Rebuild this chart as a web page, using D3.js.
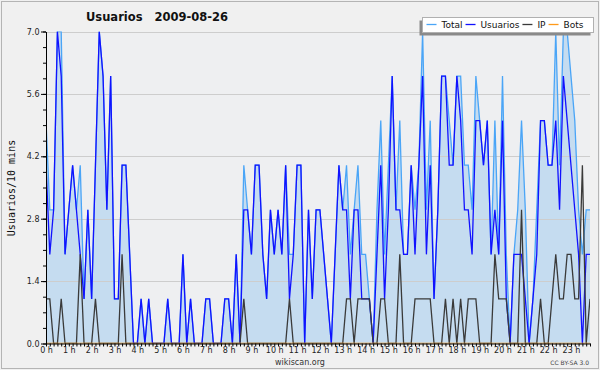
<!DOCTYPE html>
<html>

<head>
    <meta charset="UTF-8">
    <style>
        body { margin: 0; background: #f0f0f0; }
        svg text { font-family: "DejaVu Sans", sans-serif; }
    </style>
</head>

<body>
    <div id="my_dataviz"></div>

    <script src="https://d3js.org/d3.v7.min.js"></script>
    <script>
        // one value every 10 minutes (144 slots), 2 hours per row
        const total = [
            5, 3, 3, 7, 7, 2, 3, 4, 3, 4, 1, 3,
            1, 4, 7, 6, 3, 6, 1, 1, 4, 4, 2, 0,
            0, 1, 0, 1, 0, 0, 0, 0, 1, 0, 0, 0,
            2, 0, 1, 0, 0, 0, 1, 1, 0, 0, 0, 1,
            1, 0, 2, 0, 4, 3, 2, 4, 4, 2, 1, 3,
            2, 3, 2, 4, 2, 2, 4, 4, 0, 3, 1, 3,
            3, 2, 1, 0, 2, 4, 3, 4, 2, 3, 4, 2,
            2, 1, 0, 3, 5, 2, 4, 6, 3, 5, 2, 2,
            4, 3, 4, 7, 3, 5, 1, 3, 6, 6, 5, 4,
            6, 6, 4, 4, 3, 6, 5, 4, 5, 2, 5, 2,
            6, 2, 0, 2, 3, 5, 3, 0, 1, 3, 5, 5,
            4, 4, 7, 4, 7, 7, 6, 5, 3, 2, 3, 3
        ];
        const usuarios = [
            4, 2, 3, 7, 6, 2, 3, 4, 3, 2, 1, 3,
            1, 4, 7, 6, 3, 6, 1, 1, 4, 4, 2, 0,
            0, 1, 0, 1, 0, 0, 0, 0, 1, 0, 0, 0,
            2, 0, 1, 0, 0, 0, 1, 1, 0, 0, 0, 1,
            1, 0, 2, 0, 3, 3, 2, 4, 4, 2, 1, 3,
            2, 3, 2, 4, 1, 2, 4, 4, 0, 3, 1, 3,
            3, 2, 1, 0, 2, 4, 3, 3, 1, 3, 3, 1,
            1, 1, 0, 2, 4, 1, 3, 6, 3, 3, 2, 2,
            4, 2, 4, 6, 2, 4, 1, 3, 6, 6, 4, 4,
            6, 5, 3, 3, 2, 5, 5, 4, 5, 2, 3, 2,
            5, 1, 0, 2, 2, 2, 1, 0, 1, 2, 5, 5,
            4, 4, 5, 3, 6, 5, 4, 3, 2, 0, 2, 2
        ];
        const ip = [
            1, 1, 0, 0, 1, 0, 0, 0, 0, 2, 0, 0,
            0, 1, 0, 0, 0, 0, 0, 0, 2, 0, 0, 0,
            0, 0, 0, 0, 0, 0, 0, 0, 0, 0, 0, 0,
            0, 0, 0, 0, 0, 0, 0, 0, 0, 0, 0, 0,
            0, 0, 0, 0, 1, 0, 0, 0, 0, 0, 0, 0,
            0, 0, 0, 0, 1, 0, 0, 0, 0, 0, 0, 0,
            0, 0, 0, 0, 0, 0, 0, 1, 1, 0, 1, 1,
            1, 1, 0, 0, 1, 1, 0, 0, 0, 2, 0, 0,
            0, 1, 1, 1, 1, 1, 0, 0, 0, 1, 0, 1,
            0, 1, 0, 1, 1, 1, 0, 0, 0, 0, 2, 1,
            1, 1, 0, 0, 0, 3, 0, 0, 0, 0, 1, 0,
            0, 1, 2, 1, 1, 2, 2, 1, 1, 4, 0, 1
        ];
        const bots = [
            0, 0, 0, 0, 0, 0, 0, 0, 0, 0, 0, 0,
            0, 0, 0, 0, 0, 0, 0, 0, 0, 0, 0, 0,
            0, 0, 0, 0, 0, 0, 0, 0, 0, 0, 0, 0,
            0, 0, 0, 0, 0, 0, 0, 0, 0, 0, 0, 0,
            0, 0, 0, 0, 0, 0, 0, 0, 0, 0, 0, 0,
            0, 0, 0, 0, 0, 0, 0, 0, 0, 0, 0, 0,
            0, 0, 0, 0, 0, 0, 0, 0, 0, 0, 0, 0,
            0, 0, 0, 0, 0, 0, 0, 0, 0, 0, 0, 0,
            0, 0, 0, 0, 0, 0, 0, 0, 0, 0, 0, 0,
            0, 0, 0, 0, 0, 0, 0, 0, 0, 0, 0, 0,
            0, 0, 0, 0, 0, 0, 0, 0, 0, 0, 0, 0,
            0, 0, 0, 0, 0, 0, 0, 0, 0, 0, 0, 0
        ];
        const hourLabels = ["0 h", "1 h", "2 h", "3 h", "4 h", "5 h", "6 h", "7 h", "8 h", "9 h", "10 h", "11 h",
            "12 h", "13 h", "14 h", "15 h", "16 h", "17 h", "18 h", "19 h", "20 h", "21 h", "22 h", "23 h"];
        const yTicks = [0, 1.4, 2.8, 4.2, 5.6, 7.0];
        const seriesNames = ["Total", "Usuarios", "IP", "Bots"];
        const seriesColors = ["#4aa5f7", "#1111ff", "#3a3a3a", "#ff9a1a"];

        const W = 600, H = 370;
        const plot = { left: 46, right: 590, top: 31.5, bottom: 343.5 };

        const svg = d3.select("#my_dataviz")
            .append("svg")
            .attr("width", W)
            .attr("height", H);

        // background + frame
        svg.append("rect").attr("width", W).attr("height", H).attr("fill", "#f0f0f0");
        svg.append("rect")
            .attr("x", 1.5).attr("y", 1.5)
            .attr("width", W - 3).attr("height", H - 3)
            .attr("fill", "none").attr("stroke", "#b4b4b4");
        svg.append("rect")
            .attr("x", plot.left).attr("y", plot.top)
            .attr("width", plot.right - plot.left).attr("height", plot.bottom - plot.top)
            .attr("fill", "#eeeff1");

        const x = d3.scaleLinear().domain([0, total.length - 1]).range([plot.left, plot.right]);
        const y = d3.scaleLinear().domain([0, 7]).range([plot.bottom, plot.top]);

        svg.append("clipPath").attr("id", "clip")
            .append("rect")
            .attr("x", plot.left).attr("y", plot.top)
            .attr("width", plot.right - plot.left).attr("height", plot.bottom - plot.top);

        // area under Total
        const area = d3.area()
            .x((d, i) => x(i))
            .y0(y(0))
            .y1(d => y(d));

        svg.append("path")
            .datum(total)
            .attr("clip-path", "url(#clip)")
            .attr("fill", "#c5dcf0")
            .attr("d", area);

        // grid
        svg.append("g")
            .selectAll("line")
            .data(yTicks.filter(d => d > 0))
            .enter().append("line")
            .attr("x1", plot.left).attr("x2", plot.right)
            .attr("y1", d => Math.round(y(d)) + 0.5).attr("y2", d => Math.round(y(d)) + 0.5)
            .attr("stroke", "#cdcdcd");

        // lines
        const line = d3.line()
            .x((d, i) => x(i))
            .y(d => y(d));

        [total, usuarios, ip, bots].forEach(function (s, k) {
            svg.append("path")
                .datum(s)
                .attr("clip-path", "url(#clip)")
                .attr("fill", "none")
                .attr("stroke", seriesColors[k])
                .attr("stroke-width", 1.3)
                .attr("d", line);
        });

        // Y axis (minor ticks + major ticks with labels)
        svg.append("g")
            .attr("transform", "translate(" + plot.left + ",0)")
            .call(d3.axisLeft(y).tickValues(d3.range(0, 7.01, 0.35)).tickSize(3).tickFormat(""))
            .call(g => g.select(".domain").remove());

        svg.append("g")
            .attr("transform", "translate(" + plot.left + ",0)")
            .call(d3.axisLeft(y).tickValues(yTicks).tickSize(5).tickPadding(1.5).tickFormat(d3.format(".1f")).tickSizeOuter(0))
            .call(g => g.selectAll("text").attr("font-size", 8).attr("fill", "#222").style("font-family", "DejaVu Sans"));

        // X axis: one tick per 10 minutes, labels every hour
        svg.append("g")
            .attr("transform", "translate(0," + plot.bottom + ")")
            .call(d3.axisBottom(x)
                .tickValues(d3.range(0, total.length))
                .tickSize(3)
                .tickPadding(1)
                .tickSizeOuter(0)
                .tickFormat(i => i % 6 === 0 ? hourLabels[i / 6] : ""))
            .call(g => g.selectAll("text").attr("font-size", 8).attr("fill", "#222").style("font-family", "DejaVu Sans"));

        // titles
        svg.append("text")
            .attr("x", 86).attr("y", 21)
            .attr("font-size", 11.5)
            .attr("font-weight", "bold")
            .attr("fill", "#111")
            .style("white-space", "pre")
            .text("Usuarios   2009-08-26");

        svg.append("text")
            .attr("transform", "translate(15,188) rotate(-90)")
            .attr("text-anchor", "middle")
            .attr("font-size", 10)
            .style("font-family", "DejaVu Sans Mono")
            .attr("fill", "#111")
            .text("Usuarios/10 mins");

        svg.append("text")
            .attr("x", 300).attr("y", 365)
            .attr("text-anchor", "middle")
            .attr("font-size", 8)
            .attr("fill", "#333")
            .text("wikiscan.org");

        svg.append("text")
            .attr("x", 589).attr("y", 365)
            .attr("text-anchor", "end")
            .attr("font-size", 6)
            .attr("fill", "#444")
            .text("CC BY-SA 3.0");

        // legend
        const lg = svg.append("g");
        const box = { x: 422.5, y: 17.5, w: 171, h: 15 };
        lg.append("rect")
            .attr("x", box.x - 3).attr("y", box.y + 3)
            .attr("width", box.w).attr("height", box.h)
            .attr("fill", "#8a8a8a");
        lg.append("rect")
            .attr("x", box.x).attr("y", box.y)
            .attr("width", box.w).attr("height", box.h)
            .attr("fill", "#ffffff").attr("stroke", "#b0b0b0");

        let lx = box.x + 4;
        seriesNames.forEach(function (name, k) {
            lg.append("line")
                .attr("x1", lx).attr("x2", lx + 10)
                .attr("y1", 24.5).attr("y2", 24.5)
                .attr("stroke", seriesColors[k]).attr("stroke-width", 1.3);
            const t = lg.append("text")
                .attr("x", lx + 15).attr("y", 27.8)
                .attr("font-size", 9)
                .attr("fill", "#111")
                .text(name);
            lx += 15 + t.node().getComputedTextLength() + 3;
        });
    </script>
</body>

</html>
